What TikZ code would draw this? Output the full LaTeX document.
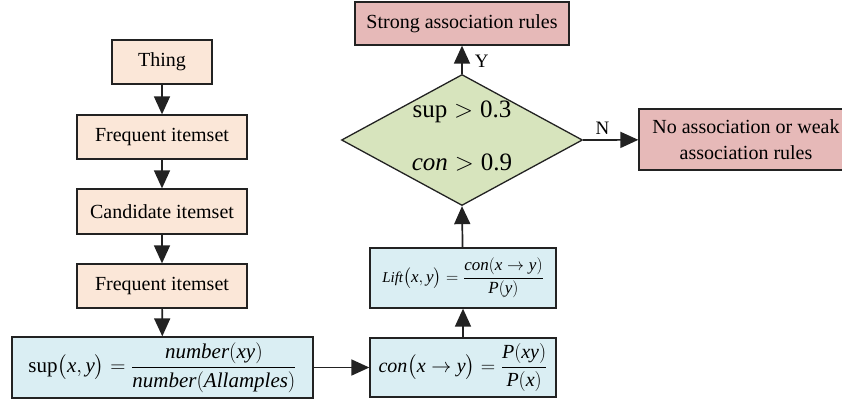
\RequirePackage{fix-cm}
\documentclass[tikz,border=0pt]{standalone}
\usepackage{amsmath}
\usepackage{fontspec}
\setmainfont{Liberation Serif}
\usetikzlibrary{shapes.geometric,arrows.meta}

\definecolor{peach}{HTML}{FBE7D8}
\definecolor{paleblue}{HTML}{DAEEF3}
\definecolor{sage}{HTML}{D7E4BD}
\definecolor{rose}{HTML}{E6B9B8}
\definecolor{edge}{HTML}{222222}

\newcommand{\iv}[1]{\textit{#1}}
\newcommand{\tr}[1]{\textrm{#1}}

\tikzset{
  box/.style={draw=edge, line width=1.3pt, inner sep=0pt, align=center,
    font=\fontsize{20}{24}\selectfont},
  itembox/.style={box, fill=peach},
  formbox/.style={box, fill=paleblue},
  resultbox/.style={box, fill=rose},
  flow/.style={draw=edge, line width=1.7pt, -{Triangle[length=18pt,width=16pt]}},
  tag/.style={font=\fontsize{19}{22}\selectfont, inner sep=0pt}
}

\begin{document}
\begin{tikzpicture}[x=1pt,y=-1pt]
\useasboundingbox (0,0) rectangle (842,402);
\clip (0,0) rectangle (842,402);

% Left column: itemset generation
\node[itembox, minimum width=100pt, minimum height=44pt] (thing) at (162,62) {Thing};
\node[itembox, minimum width=170pt, minimum height=44pt] (freq1) at (162,137) {Frequent itemset};
\node[itembox, minimum width=170pt, minimum height=45pt] (cand) at (162,211.5) {Candidate itemset};
\node[itembox, minimum width=170pt, minimum height=44pt] (freq2) at (162,286) {Frequent itemset};

% Measures
\node[formbox, minimum width=301pt, minimum height=61pt, font=\fontsize{21}{25}\selectfont] (sup) at (162.5,367.5)
  {$\tr{sup}\bigl(\iv{x}, \iv{y}\bigr) = \dfrac{\iv{number}(\iv{xy})}{\iv{number}(\iv{Allamples})}$};
\node[formbox, minimum width=186pt, minimum height=59pt, font=\fontsize{20}{24}\selectfont] (con) at (463,367.5)
  {$\iv{con}\bigl(\iv{x} \to \iv{y}\bigr) = \dfrac{\iv{P}(\iv{xy})}{\iv{P}(\iv{x})}$};
\node[formbox, minimum width=186pt, minimum height=60pt, font=\fontsize{17}{20}\selectfont] (lift) at (463,278)
  {$\textit{\fontsize{15}{18}\selectfont Lift}\bigl(\iv{x}, \iv{y}\bigr) = \dfrac{\iv{con}(\iv{x} \to \iv{y})}{\iv{P}(\iv{y})}$};

% Decision
\node[diamond, draw=edge, line width=1.3pt, fill=sage, inner sep=0pt,
      minimum width=241pt, minimum height=131pt] (dec) at (462,140) {};
\node[align=center, inner sep=0pt, font=\fontsize{25}{53}\selectfont] (dectext) at (462,136.5)
  {$\tr{sup} > \tr{0.3}$\\$\iv{con} > \tr{0.9}$};

% Outcomes
\node[resultbox, minimum width=214pt, minimum height=43pt] (strong) at (462,23.5) {Strong association rules};
\node[resultbox, minimum width=214pt, minimum height=61pt, align=center,
      font=\fontsize{20}{26}\selectfont] (weak) at (746,139.5)
  {No association or weak\\association rules};

% Connectors
\draw[flow] (thing) -- (freq1);
\draw[flow] (freq1) -- (cand);
\draw[flow] (cand) -- (freq2);
\draw[flow] (freq2) -- (sup);
\draw[flow] (sup) -- (con);
\draw[flow] (con) -- (lift);
\draw[flow] (lift) -- (dec.south);
\draw[flow] (dec.north) -- node[tag, right, xshift=12pt, yshift=-2pt] (ylab) {Y} (strong);
\draw[flow] (dec.east) -- node[tag, above, pos=0.35, yshift=5pt] (nlab) {N} (weak);
\end{tikzpicture}
\end{document}
